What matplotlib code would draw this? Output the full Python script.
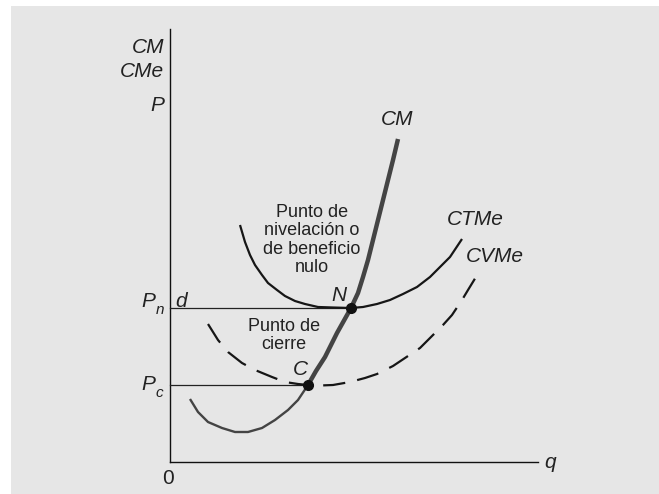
import numpy as np
import matplotlib
matplotlib.use("Agg")
import matplotlib.pyplot as plt

plt.rcParams['font.family'] = ['Liberation Sans', 'DejaVu Sans']

# %%
# Curves (q, cost)
cm_low_q = [20, 28, 38, 52, 65, 78, 92, 105, 118, 128, 138]
cm_low_c = [63, 50, 40, 34, 30, 30, 34, 42, 52, 62, 77]
cm_high_q = [138, 146, 155, 167, 181, 188, 193, 198, 203, 208, 213, 218, 223, 228]
cm_high_c = [77, 91, 105, 129, 154, 169, 185, 202, 222, 242, 262, 282, 302, 323]

ctme_q = [70, 75, 80, 85, 92, 98, 107, 115, 125, 135, 148, 163, 181,
          193, 207, 220, 233, 247, 260, 270, 280, 292]
ctme_c = [237, 220, 207, 197, 187, 179, 172, 166, 161, 158, 155, 154.5, 154,
          155, 158, 162, 168, 175, 185, 195, 205, 223]

cvme_q = [38, 48, 58, 72, 85, 102, 115, 128, 138, 150, 163, 180, 195, 207,
          223, 235, 250, 260, 273, 282, 292, 298, 309]
cvme_c = [138, 122, 110, 99, 92, 85, 80, 78, 77, 76.5, 77, 80, 84, 88,
          96, 104, 114, 124, 137, 147, 162, 172, 190]

# key points
p_n = 154
p_c = 77
q_n = 181
q_c = 138
y_top = 433
x_right = 368

# %%
fig = plt.figure(figsize=(6.59, 4.94), dpi=100)
fig.patch.set_facecolor('white')
ax = fig.add_axes([11 / 659, 0, 648 / 659, 488 / 494])
ax.set_facecolor('#e6e6e6')
ax.set_xlim(-159, 489)
ax.set_ylim(-32, 456)
ax.set_xticks([])
ax.set_yticks([])
for s in ax.spines.values():
    s.set_visible(False)

# axes
ax.plot([0, 0], [0, y_top], color='#111111', lw=1.0)
ax.plot([0, x_right], [0, 0], color='#111111', lw=1.0)

# price lines
ax.plot([0, q_n], [p_n, p_n], color='#222222', lw=0.9)
ax.plot([0, q_c], [p_c, p_c], color='#222222', lw=0.9)

# curves
ax.plot(ctme_q, ctme_c, color='#161616', lw=1.6, solid_capstyle='butt',
        solid_joinstyle='round')
cv, = ax.plot(cvme_q, cvme_c, color='#161616', lw=1.6)
cv.set_dashes((10, 5.5))
cv.set_dash_capstyle('butt')
cv.set_dash_joinstyle('round')
ax.plot(cm_low_q, cm_low_c, color='#444444', lw=1.7, solid_capstyle='butt',
        solid_joinstyle='round')
ax.plot(cm_high_q, cm_high_c, color='#444444', lw=3.2, solid_capstyle='butt',
        solid_joinstyle='round')

# points
ax.plot([q_n, q_c], [p_n, p_c], 'o', color='#111111', ms=7, zorder=5)

# labels
it = dict(style='italic', fontsize=15, color='#222222')
sub = dict(style='italic', fontsize=11, color='#222222')
ax.text(-6, 409, 'CM', ha='right', va='baseline', **it)
ax.text(-6, 385, 'CMe', ha='right', va='baseline', **it)
ax.text(-6, 351, 'P', ha='right', va='baseline', **it)
ax.text(-15, 155, 'P', ha='right', va='baseline', **it)
ax.text(-14, 148, 'n', ha='left', va='baseline', **sub)
ax.text(-15, 72, 'P', ha='right', va='baseline', **it)
ax.text(-14, 65, 'c', ha='left', va='baseline', **sub)
ax.text(5, 155, 'd', ha='left', va='baseline', **it)
ax.text(-2, -16, '0', ha='center', va='center', fontsize=15, color='#222222')
ax.text(380, -6, 'q', ha='center', va='baseline', **it)
ax.text(169, 161, 'N', ha='center', va='baseline', **it)
ax.text(130, 87, 'C', ha='center', va='baseline', **it)
ax.text(227, 337, 'CM', ha='center', va='baseline', **it)
ax.text(305, 237, 'CTMe', ha='center', va='baseline', **it)
ax.text(325, 200, 'CVMe', ha='center', va='baseline', **it)

ax.text(142, 190, 'Punto de\nnivelación o\nde beneficio\nnulo', ha='center',
        multialignment='center', va='baseline', fontsize=13, linespacing=1.1,
        color='#222222')
ax.text(114, 113, 'Punto de\ncierre', ha='center', multialignment='center',
        va='baseline', fontsize=13, linespacing=1.1, color='#222222')

fig.savefig('out.png', dpi=100, facecolor='white')
